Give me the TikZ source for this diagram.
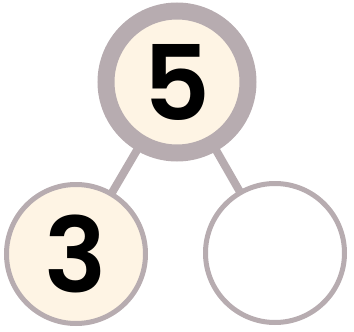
\documentclass[tikz,border=0pt]{standalone}
\usepackage{fontspec}
\setmainfont{Poppins}[BoldFont={Poppins SemiBold}]
\usetikzlibrary{backgrounds}
\definecolor{ringgray}{RGB}{183,172,176}
\definecolor{cream}{RGB}{254,244,228}
\tikzset{
  bignum/.style={font=\fontsize{104}{104}\selectfont\bfseries, text=black},
  topcirc/.style={circle, draw=ringgray, line width=17pt, fill=cream, minimum size=142pt, inner sep=0pt},
  subcirc/.style={circle, draw=ringgray, line width=5pt, minimum size=139pt, inner sep=0pt},
  link/.style={draw=ringgray, line width=8pt}
}
\begin{document}
\begin{tikzpicture}[x=1pt,y=-1pt]
\useasboundingbox (0,0) rectangle (354,332);
\node[topcirc, bignum] (top) at (177,82) {5};
\node[subcirc, fill=cream, bignum] (left) at (76,254) {3};
\node[subcirc, fill=white] (right) at (275,253) {};
\begin{pgfonlayer}{background}
\draw[link] (top.center) -- (left.center);
\draw[link] (top.center) -- (right.center);
\end{pgfonlayer}
\end{tikzpicture}
\end{document}
